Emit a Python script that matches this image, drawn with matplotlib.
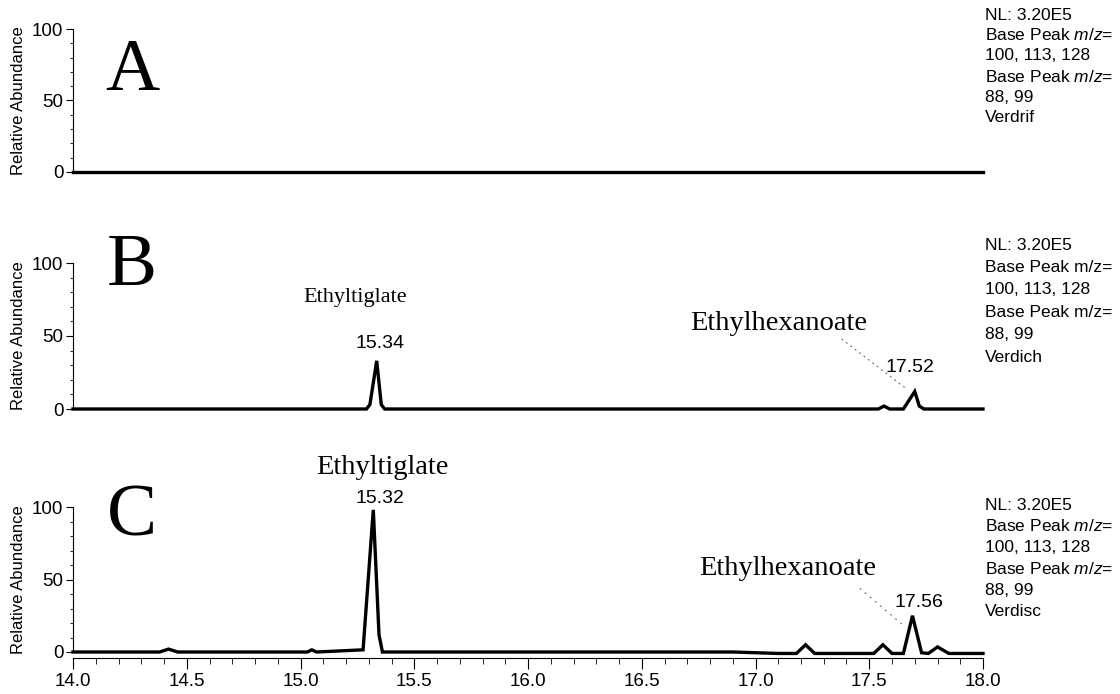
import matplotlib.pyplot as plt
from matplotlib.ticker import MultipleLocator

plt.rcParams['font.family'] = ['Liberation Sans', 'DejaVu Sans']
plt.rcParams['mathtext.fontset'] = 'custom'
plt.rcParams['mathtext.rm'] = 'Liberation Sans'
plt.rcParams['mathtext.it'] = 'Liberation Sans:italic'

# chromatogram traces (retention time in min, relative abundance in %)
t_a = [14.0, 15.0, 16.0, 17.0, 18.0]
y_a = [0, 0, 0, 0, 0]

t_b = [14.0, 15.29, 15.305, 15.335, 15.355, 15.37,
       17.54, 17.565, 17.59, 17.65, 17.70, 17.72, 17.74, 18.0]
y_b = [0, 0, 3, 33, 3, 0,
       0, 2, 0, 0, 12, 2, 0, 0]

t_c = [14.0, 14.38, 14.42, 14.46, 15.03, 15.05, 15.07, 15.275, 15.32, 15.345,
       15.36, 16.9, 17.1, 17.18, 17.22, 17.26, 17.52, 17.56, 17.6, 17.65,
       17.69, 17.73, 17.76, 17.80, 17.85, 18.0]
y_c = [0, 0, 2, 0, 0, 1.5, 0, 1.5, 98, 12,
       0, 0, -1, -1, 5, -1, -1, 5, -1, -1,
       25, -0.5, -1, 3.5, -1, -1]

panel_letters = ['A', 'B', 'C']
sample_names = ['Verdrif', 'Verdich', 'Verdisc']

W, H = 1120, 694
fig = plt.figure(figsize=(W / 100, H / 100), dpi=100)


def make_axes(y100, y0):
    ppu = (y0 - y100) / 100.0
    top = y100 - 4 * ppu
    bot = y0 + 4 * ppu
    ax = fig.add_axes([73 / W, 1 - bot / H, (983 - 73) / W, (bot - top) / H])
    ax.set_xlim(14, 18)
    ax.set_ylim(-4, 104)
    for s in ['top', 'right']:
        ax.spines[s].set_visible(False)
    ax.spines['left'].set_bounds(0, 100)
    ax.spines['left'].set_linewidth(0.8)
    ax.set_yticks([0, 50, 100])
    ax.yaxis.set_minor_locator(MultipleLocator(10))
    ax.tick_params(axis='y', which='major', length=5, width=0.8, labelsize=13.5, pad=2)
    ax.tick_params(axis='y', which='minor', length=2.5, width=0.6)
    ax.set_ylabel('Relative Abundance', fontsize=12, labelpad=2)
    ax.yaxis.set_label_coords(-0.052, 0.5)
    return ax


ax_a = make_axes(29, 172)
ax_b = make_axes(263, 409)
ax_c = make_axes(507, 652)

for ax in (ax_a, ax_b):
    ax.spines['bottom'].set_visible(False)
    ax.set_xticks([])

ax_c.spines['bottom'].set_linewidth(0.8)
ax_c.set_xticks([14.0, 14.5, 15.0, 15.5, 16.0, 16.5, 17.0, 17.5, 18.0])
ax_c.set_xticklabels(['14.0', '14.5', '15.0', '15.5', '16.0', '16.5', '17.0', '17.5', '18.0'])
ax_c.xaxis.set_minor_locator(MultipleLocator(0.1))
ax_c.tick_params(axis='x', which='major', length=8, width=0.8, labelsize=13.5, pad=3)
ax_c.tick_params(axis='x', which='minor', length=4, width=0.6)

for ax, t, y in [(ax_a, t_a, y_a), (ax_b, t_b, y_b), (ax_c, t_c, y_c)]:
    ax.plot(t, y, color='black', lw=2.4, solid_joinstyle='miter', clip_on=False)

serif = ['Liberation Serif', 'DejaVu Serif']

# panel letters
for ax, letter, yb in [(ax_a, 'A', 57), (ax_b, 'B', 85), (ax_c, 'C', 80)]:
    ax.text(14.26, yb, letter, family=serif, fontsize=54, ha='center', va='baseline')

# peak labels
ax_b.text(15.24, 73, 'Ethyltiglate', family=serif, fontsize=16, ha='center', va='baseline')
ax_b.text(15.35, 42, '15.34', fontsize=14, ha='center', va='baseline')
ax_b.text(17.10, 54, 'Ethylhexanoate', family=serif, fontsize=20.5, ha='center', va='baseline')
ax_b.text(17.68, 25, '17.52', fontsize=14, ha='center', va='baseline')
ax_b.annotate('', xy=(17.67, 13), xytext=(17.37, 49),
              arrowprops=dict(arrowstyle='-', ls=(0, (1, 4)), color='0.4', lw=0.8))

ax_c.text(15.36, 123, 'Ethyltiglate', family=serif, fontsize=20.5, ha='center',
          va='baseline', clip_on=False)
ax_c.text(15.35, 103, '15.32', fontsize=14, ha='center', va='baseline', clip_on=False)
ax_c.text(17.14, 53, 'Ethylhexanoate', family=serif, fontsize=20.5, ha='center', va='baseline')
ax_c.text(17.72, 31, '17.56', fontsize=14, ha='center', va='baseline')
ax_c.annotate('', xy=(17.66, 17), xytext=(17.45, 45),
              arrowprops=dict(arrowstyle='-', ls=(0, (1, 5)), color='0.4', lw=0.8))

# right-hand scan info
for y_start, step, name, italic in [(15, 20.5, 'Verdrif', True),
                                    (245, 22.5, 'Verdich', False),
                                    (505, 21.4, 'Verdisc', True)]:
    mz = 'Base Peak $m/z$=' if italic else 'Base Peak m/z='
    lines = ['NL: 3.20E5', mz, '100, 113, 128', mz, '88, 99', name]
    for i, s in enumerate(lines):
        fig.text(985 / W, 1 - (y_start + i * step) / H, s, fontsize=12.5,
                 ha='left', va='center')

fig.savefig('out.png', dpi=100)
